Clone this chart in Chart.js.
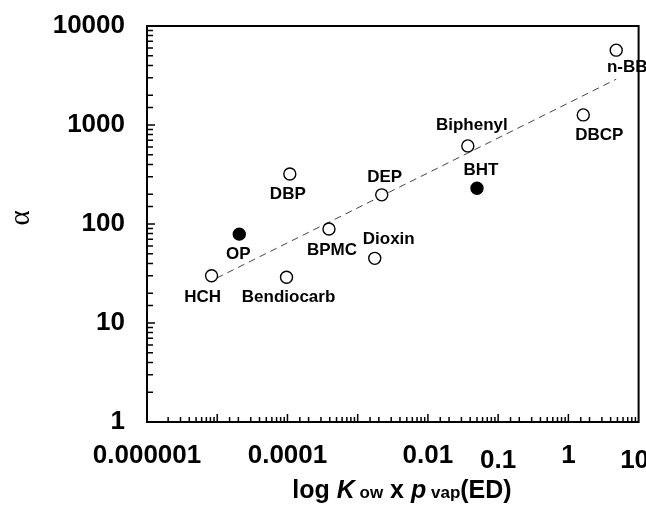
<!DOCTYPE html>
<html>
<head>
<meta charset="utf-8">
<script src="https://cdn.jsdelivr.net/npm/chart.js@4.4.0/dist/chart.umd.min.js"></script>
<style>
  html, body { margin: 0; padding: 0; background: #fff; }
  #wrap { width: 646px; height: 509px; }
</style>
</head>
<body>
<div id="wrap"><canvas id="alpha-chart"></canvas></div>
<script>
// values
const compounds = ['HCH', 'OP', 'Bendiocarb', 'DBP', 'BPMC', 'Dioxin', 'DEP', 'Biphenyl', 'BHT', 'DBCP', 'n-BB']
const kowPvap = [8.3e-6, 2.06e-5, 9.7e-5, 1.08e-4, 3.9e-4, 1.75e-3, 2.2e-3, 0.037, 0.050, 1.63, 4.8]
const alphaValues = [30, 79, 29, 320, 89, 45, 197, 615, 230, 1265, 5700]
const solidPoint = [false, true, false, false, false, false, false, false, true, false, false]

// dashed regression line end points
const trendX = [9.8e-6, 4.8]
const trendY = [28.4, 2900]

const xTickValues = [1e-6, 1e-4, 0.01, 0.1, 1, 10]
const xTickLabels = ['0.000001', '0.0001', '0.01', '0.1', '1', '10']
const yTickLabels = ['1', '10', '100', '1000', '10000']

// label placement relative to each point (px)
const labelOffsets = [[-9, 22], [-1, 20], [2, 20], [-2, 20], [3, 21], [14, -19], [3, -18], [4, -21], [4, -18], [16, 20], [11, 17]]
const xLabelDrop = [0, 0, 0, 5, 0, 5] // 0.1 and 10 sit a little lower in the original
const xLabelShift = [0, 0, 0, 0, 0, -4]

const FONT = 'Liberation Sans, Arial, sans-serif'

const pointLabels = {
    id: 'pointLabels',
    afterDatasetsDraw(chart) {
        const ctx = chart.ctx
        const meta = chart.getDatasetMeta(1)
        ctx.save()
        ctx.fillStyle = '#000'
        ctx.font = 'bold 17px ' + FONT
        ctx.textAlign = 'center'
        ctx.textBaseline = 'middle'
        meta.data.forEach((pt, i) => {
            ctx.fillText(compounds[i], pt.x + labelOffsets[i][0], pt.y + labelOffsets[i][1])
        })
        ctx.restore()
    }
}

const frameAndAxes = {
    id: 'frameAndAxes',
    afterDraw(chart) {
        const ctx = chart.ctx
        const area = chart.chartArea
        const xs = chart.scales.x
        const ys = chart.scales.y
        const isDecade = v => Math.abs(Math.log10(v) - Math.round(Math.log10(v))) < 1e-6
        ctx.save()
        ctx.strokeStyle = '#000'

        // inward tick marks
        ctx.lineWidth = 1.5
        ctx.beginPath()
        xs.ticks.forEach(t => {
            const px = xs.getPixelForValue(t.value)
            if (px <= area.left + 1 || px >= area.right - 1) return
            const len = isDecade(t.value) ? 8 : 5
            ctx.moveTo(px, area.bottom)
            ctx.lineTo(px, area.bottom - len)
        })
        ys.ticks.forEach(t => {
            const py = ys.getPixelForValue(t.value)
            if (py <= area.top + 1 || py >= area.bottom - 1) return
            const len = isDecade(t.value) ? 8 : 6
            ctx.moveTo(area.left, py)
            ctx.lineTo(area.left + len, py)
        })
        ctx.stroke()

        // box
        ctx.lineWidth = 2
        ctx.strokeRect(area.left, area.top, area.right - area.left, area.bottom - area.top)

        // x tick labels
        ctx.fillStyle = '#000'
        ctx.font = 'bold 26px ' + FONT
        ctx.textAlign = 'center'
        ctx.textBaseline = 'alphabetic'
        xTickValues.forEach((v, i) => {
            ctx.fillText(xTickLabels[i], xs.getPixelForValue(v) + xLabelShift[i], 463 + xLabelDrop[i])
        })

        // x title with subscripts
        const parts = [
            ['log ', 'bold 25px ' + FONT],
            ['K', 'italic bold 25px ' + FONT],
            [' ow', 'bold 17px ' + FONT],
            [' x ', 'bold 25px ' + FONT],
            ['p', 'italic bold 25px ' + FONT],
            [' vap', 'bold 17px ' + FONT],
            ['(ED)', 'bold 25px ' + FONT]
        ]
        let total = 0
        parts.forEach(p => { ctx.font = p[1]; total += ctx.measureText(p[0]).width })
        let cx = 402 - total / 2
        ctx.textAlign = 'left'
        parts.forEach(p => {
            ctx.font = p[1]
            ctx.fillText(p[0], cx, 498)
            cx += ctx.measureText(p[0]).width
        })

        // y title
        ctx.translate(21, 218)
        ctx.rotate(-Math.PI / 2)
        ctx.textAlign = 'center'
        ctx.textBaseline = 'middle'
        ctx.font = '29px Liberation Serif, serif'
        ctx.fillText('α', 0, 0)
        ctx.restore()
    }
}

const ctx = document.getElementById('alpha-chart')

const myChart = new Chart(ctx, {
    type: 'scatter',
    data: {
        datasets: [{
            type: 'line',
            label: 'fit',
            data: trendX.map((x, i) => ({ x: x, y: trendY[i] })),
            borderColor: '#444',
            borderWidth: 1,
            borderDash: [7, 5],
            pointRadius: 0,
            fill: false,
            order: 2
        }, {
            label: 'alpha',
            data: kowPvap.map((x, i) => ({ x: x, y: alphaValues[i] })),
            pointRadius: 6,
            pointBorderWidth: 1.4,
            pointBorderColor: '#000',
            pointBackgroundColor: solidPoint.map(s => s ? '#000' : '#fff'),
            order: 1
        }]
    },
    options: {
        responsive: true,
        maintainAspectRatio: false,
        animation: false,
        layout: { padding: { top: 26, right: 7, left: 0, bottom: 0 } },
        plugins: {
            legend: { display: false },
            tooltip: { enabled: false }
        },
        scales: {
            x: {
                type: 'logarithmic',
                min: 1e-6,
                max: 10,
                grid: { display: false, drawTicks: false },
                border: { display: false },
                ticks: { display: false, autoSkip: false },
                afterFit: s => { s.height = 87; s.paddingLeft = 0; s.paddingRight = 0 }
            },
            y: {
                type: 'logarithmic',
                min: 1,
                max: 10000,
                grid: { display: false, drawTicks: false },
                border: { display: false },
                ticks: {
                    autoSkip: false,
                    padding: 22,
                    color: '#000',
                    font: { family: FONT, size: 26, weight: 'bold' },
                    callback: v => yTickLabels.includes(String(v)) ? String(v) : ''
                },
                afterFit: s => { s.width = 147; s.paddingTop = 0; s.paddingBottom = 0 }
            }
        }
    },
    plugins: [pointLabels, frameAndAxes]
})
</script>
</body>
</html>
